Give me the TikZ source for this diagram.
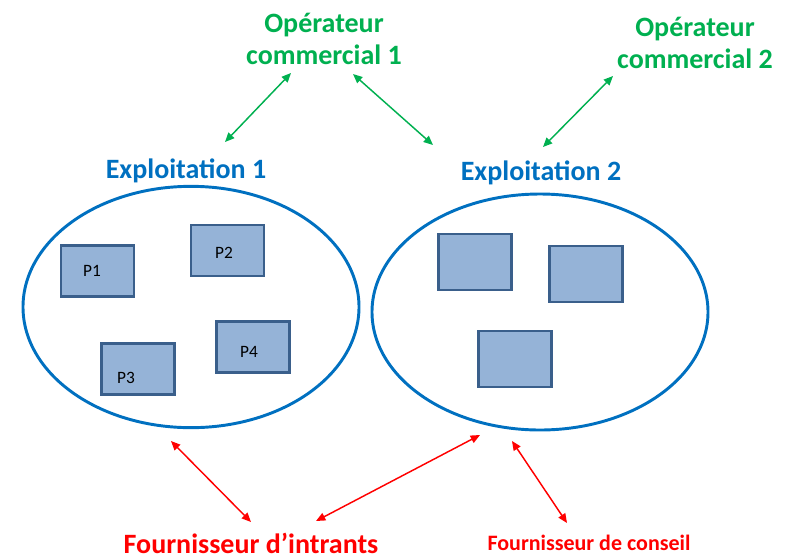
\documentclass[tikz,border=0pt]{standalone}
\usepackage{fontspec}
\setmainfont{Carlito}
\usetikzlibrary{shapes.geometric,arrows.meta}

\definecolor{farmblue}{HTML}{0070C0}
\definecolor{opgreen}{HTML}{00B050}
\definecolor{supred}{HTML}{FF0000}
\definecolor{plotfill}{HTML}{95B3D7}
\definecolor{plotline}{HTML}{3A5F8B}

\begin{document}
\begin{tikzpicture}[x=0.75pt,y=-0.75pt,>={Triangle[length=7pt,width=6pt]},
  farm/.style={ellipse,draw=farmblue,line width=2.2pt,minimum width=252pt,minimum height=181pt,inner sep=0pt},
  plot/.style={rectangle,draw=plotline,fill=plotfill,line width=1.8pt,minimum width=55pt,minimum height=38pt,inner sep=0pt},
  plot label/.style={font=\fontsize{13}{15}\selectfont,inner sep=0pt},
  title/.style={font=\bfseries\fontsize{21}{23.5}\selectfont,align=center,anchor=base,inner sep=0pt},
  link/.style={<->,line width=1.1pt}]

  \useasboundingbox (0,0) rectangle (790,558);

  % exploitations
  \node[farm] (ex1) at (191,307) {};
  \node[farm,minimum height=177pt] (ex2) at (540,312) {};

  \node[title,text=farmblue] (ex1 title) at (186,178) {Exploitation 1};
  \node[title,text=farmblue] (ex2 title) at (541,180) {Exploitation 2};

  % parcelles
  \node[plot] (p1) at (97.5,271) {};
  \node[plot] (p2) at (227.5,250.5) {};
  \node[plot] (p3) at (138,369) {};
  \node[plot] (p4) at (253,347) {};
  \node[plot label] at (92,271) {P1};
  \node[plot label] at (224,253) {P2};
  \node[plot label] at (126,378) {P3};
  \node[plot label] at (249,352) {P4};

  \node[plot,minimum height=42pt] (q1) at (475,262) {};
  \node[plot,minimum height=42pt] (q2) at (586,274) {};
  \node[plot,minimum height=42pt] (q3) at (515,359) {};

  % operateurs et fournisseurs
  \node[title,text=opgreen] (op1) at (324,64) {Opérateur\\commercial 1};
  \node[title,text=opgreen] (op2) at (695,68) {Opérateur\\commercial 2};
  \node[title,text=supred] (intr) at (251,553) {Fournisseur d’intrants};
  \node[title,text=supred,font=\bfseries\fontsize{16.5}{20}\selectfont] (cons) at (589,550) {Fournisseur de conseil};

  % points d'attache des fleches
  \coordinate (g1a) at (225,142);
  \coordinate (g1b) at (291,73);
  \coordinate (g2a) at (353,74);
  \coordinate (g2b) at (433,145);
  \coordinate (g3a) at (543,147);
  \coordinate (g3b) at (613,76);
  \coordinate (r1a) at (171,441);
  \coordinate (r1b) at (251,522);
  \coordinate (r2a) at (316,521);
  \coordinate (r2b) at (480,435);
  \coordinate (r3a) at (512,441);
  \coordinate (r3b) at (567,523);

  \draw[link,opgreen] (g1a) -- (g1b);
  \draw[link,opgreen] (g2a) -- (g2b);
  \draw[link,opgreen] (g3a) -- (g3b);
  \draw[link,supred] (r1a) -- (r1b);
  \draw[link,supred] (r2a) -- (r2b);
  \draw[link,supred] (r3a) -- (r3b);

\end{tikzpicture}
\end{document}
